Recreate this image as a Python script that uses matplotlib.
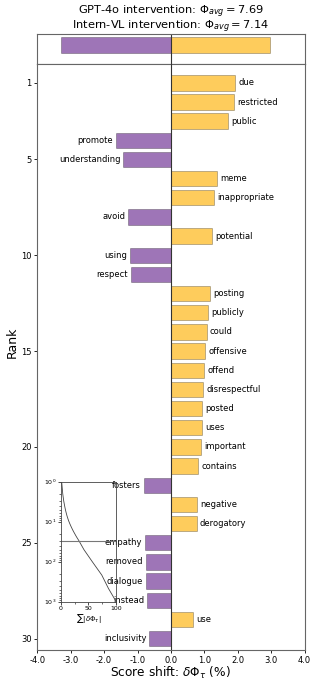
import numpy as np
import matplotlib
matplotlib.use('Agg')
import matplotlib.pyplot as plt

# word shift values (%), rank 1..30
words = ['due', 'restricted', 'public', 'promote', 'understanding', 'meme',
         'inappropriate', 'avoid', 'potential', 'using', 'respect', 'posting',
         'publicly', 'could', 'offensive', 'offend', 'disrespectful', 'posted',
         'uses', 'important', 'contains', 'fosters', 'negative', 'derogatory',
         'empathy', 'removed', 'dialogue', 'instead', 'use', 'inclusivity']
shifts = [1.93, 1.90, 1.72, -1.66, -1.43, 1.39, 1.30, -1.29, 1.24, -1.23,
          -1.21, 1.18, 1.12, 1.08, 1.03, 1.00, 0.97, 0.94, 0.94, 0.91,
          0.82, -0.82, 0.79, 0.77, -0.78, -0.76, -0.75, -0.73, 0.67, -0.65]

# total contributions (top bar)
total_neg = -3.30
total_pos = 2.96

# cumulative |shift| beyond the top 30
tail_ranks = [50, 100, 215, 465, 1000]
tail_cum = [42, 57, 74, 86, 100]

xticks = [-4.0, -3.0, -2.0, -1.0, 0.0, 1.0, 2.0, 3.0, 4.0]
yticks = [1, 5, 10, 15, 20, 25, 30]

pos_color = '#FECC5C'
neg_color = '#9E75B7'
spine_color = '#666666'

fig = plt.figure(figsize=(3.19, 6.84), dpi=100)
ax_top = fig.add_axes([0.117, 0.9069, 0.838, 0.043])
ax = fig.add_axes([0.117, 0.0497, 0.838, 0.8572])

ranks = np.arange(1, len(words) + 1)
colors = [pos_color if v > 0 else neg_color for v in shifts]
ax.barh(ranks, shifts, height=0.8, color=colors,
        edgecolor=(0, 0, 0, 0.3), linewidth=0.6, zorder=2)
for r, v, w in zip(ranks, shifts, words):
    if v > 0:
        ax.text(v + 0.08, r, w, ha='left', va='center', fontsize=6, zorder=3)
    else:
        ax.text(v - 0.08, r, w, ha='right', va='center', fontsize=6, zorder=3)

ax.axvline(0, color='#333333', lw=0.8, zorder=4)
ax.set_xlim(-4, 4)
ax.set_ylim(30.6, 0)
ax.set_yticks(yticks)
ax.set_yticklabels([str(t) for t in yticks], fontsize=6)
ax.set_xticks(xticks)
ax.set_xticklabels([f'{t:.1f}' for t in xticks], fontsize=6)
ax.tick_params(length=2.5, width=0.6, pad=1.5)
for s in ax.spines.values():
    s.set_color(spine_color)
    s.set_linewidth(0.8)

# top bar with totals
ax_top.barh([0.64], [total_neg], height=0.52, color=neg_color,
            edgecolor=(0, 0, 0, 0.3), linewidth=0.6)
ax_top.barh([0.64], [total_pos], height=0.52, color=pos_color,
            edgecolor=(0, 0, 0, 0.3), linewidth=0.6)
ax_top.axvline(0, color='#333333', lw=0.8)
ax_top.set_xlim(-4, 4)
ax_top.set_ylim(0, 1)
ax_top.set_xticks([])
ax_top.set_yticks([])
for s in ax_top.spines.values():
    s.set_color(spine_color)
    s.set_linewidth(0.8)

fig.text(0.535, 0.9825, r'GPT-4o intervention: $\Phi_{avg} = 7.69$',
         ha='center', va='center', fontsize=8.2)
fig.text(0.535, 0.9605, r'Intern-VL intervention: $\Phi_{avg} = 7.14$',
         ha='center', va='center', fontsize=8.2)
fig.text(0.037, 0.5, 'Rank', rotation=90, ha='center', va='center', fontsize=9)
fig.text(0.535, 0.0285, r'Score shift: $\delta\Phi_\tau$ (%)',
         ha='center', va='top', fontsize=8.7)

# inset: cumulative contribution
ins = fig.add_axes([0.190, 0.1203, 0.1743, 0.1754])
ins.patch.set_alpha(0)
cum_head = np.cumsum(np.abs(shifts))
cum_x = list(cum_head) + tail_cum
cum_y = list(ranks) + tail_ranks
ins.plot(cum_x, cum_y, color='#444444', lw=0.6)
ins.axhline(len(words), color='#777777', lw=0.8)
ins.set_yscale('log')
ins.set_ylim(1000, 1)
ins.set_xlim(0, 100)
ins.set_xticks([0, 50, 100])
ins.set_xticks([25, 75], minor=True)
ins.set_yticks([1, 10, 100, 1000])
ins.tick_params(labelsize=4.5, length=2, width=0.5, pad=1)
ins.tick_params(which='minor', length=1.2, width=0.4)
ins.set_xlabel(r'$\sum|\delta\Phi_\tau|$', fontsize=5, labelpad=1)
for s in ins.spines.values():
    s.set_color('#444444')
    s.set_linewidth(0.6)

fig.savefig('out.png', dpi=100)
